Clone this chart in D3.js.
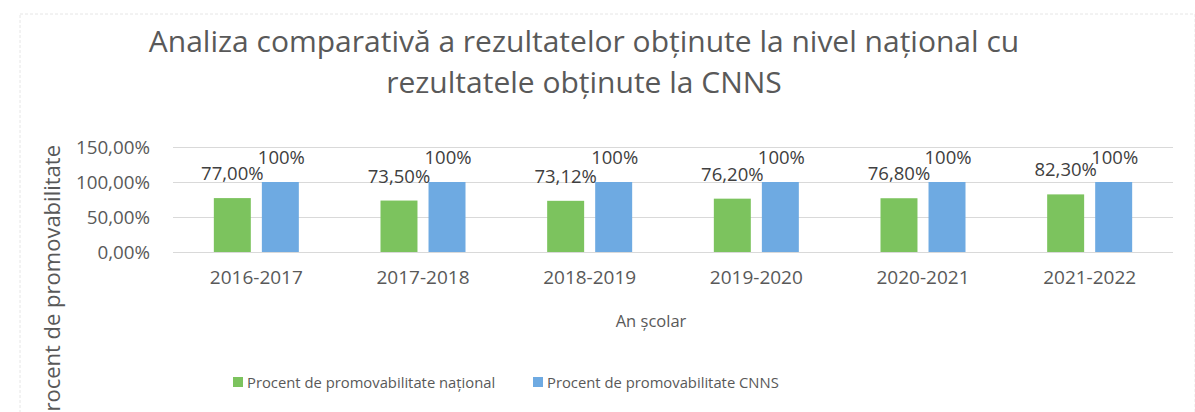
<!DOCTYPE html>
<html lang="ro">
<head>
<meta charset="UTF-8">
<title>Analiza comparativă</title>
<script src="https://d3js.org/d3.v7.min.js"></script>
<style>
  html, body { margin: 0; padding: 0; background: #fff; }
  svg { display: block; font-family: "Open Sans", sans-serif; }
</style>
</head>
<body>
<svg id="chart"></svg>
<script>
// data
const years = ["2016-2017", "2017-2018", "2018-2019", "2019-2020", "2020-2021", "2021-2022"];
const national = [77.00, 73.50, 73.12, 76.20, 76.80, 82.30];
const cnns = [100, 100, 100, 100, 100, 100];
const nationalLabels = ["77,00%", "73,50%", "73,12%", "76,20%", "76,80%", "82,30%"];
const cnnsLabels = ["100%", "100%", "100%", "100%", "100%", "100%"];
const yTicks = [0, 50, 100, 150];
const yTickLabels = ["0,00%", "50,00%", "100,00%", "150,00%"];
const seriesNames = ["Procent de promovabilitate naţional", "Procent de promovabilitate CNNS"];

const width = 1195, height = 412;
const margin = { top: 147, right: 22, bottom: 160, left: 173 };
const colors = ["#7cc35e", "#6eaae2"];
const textColor = "#595959";

const svg = d3.select("#chart").attr("width", width).attr("height", height);

// faint frame of the chart area
svg.append("rect")
  .attr("x", 20).attr("y", 14).attr("width", width - 20).attr("height", height)
  .attr("fill", "none").attr("stroke", "#e6e6e6").attr("stroke-dasharray", "3,2");

const g = svg.append("g").attr("transform", `translate(${margin.left},${margin.top})`);
const w = width - margin.left - margin.right;
const h = 252 - margin.top;

const x0 = d3.scaleBand().domain(years).range([0, w]).paddingInner(0.49).paddingOuter(0.245);
const x1 = d3.scaleBand().domain([0, 1]).range([0, x0.bandwidth()]).paddingInner(0.23);
const y = d3.scaleLinear().domain([0, 150]).range([h, 0]);

// gridlines
g.append("g")
  .call(d3.axisLeft(y).tickValues(yTicks).tickSize(-w).tickFormat(""))
  .call(s => s.select(".domain").remove())
  .call(s => s.selectAll("line").attr("stroke", "#d9d9d9"));

// y tick labels
g.append("g")
  .call(d3.axisLeft(y).tickValues(yTicks).tickSize(0).tickPadding(23)
    .tickFormat((d, i) => yTickLabels[i]))
  .call(s => s.select(".domain").remove())
  .call(s => s.selectAll("text").attr("fill", textColor)
    .attr("font-size", "18.8px").attr("font-family", "Open Sans"));

// x axis labels
g.append("g")
  .attr("transform", `translate(0,${h})`)
  .call(d3.axisBottom(x0).tickSize(0).tickPadding(19))
  .call(s => s.select(".domain").remove())
  .call(s => s.selectAll("text").attr("fill", textColor)
    .attr("font-size", "19px").attr("font-family", "Open Sans"));

const series = [national, cnns];
const seriesLabels = [nationalLabels, cnnsLabels];

series.forEach((vals, si) => {
  g.selectAll(".bar" + si)
    .data(vals)
    .join("rect")
    .attr("x", (d, i) => x0(years[i]) + x1(si))
    .attr("y", d => y(d))
    .attr("width", x1.bandwidth())
    .attr("height", d => h - y(d))
    .attr("fill", colors[si]);

  g.selectAll(".lab" + si)
    .data(vals)
    .join("text")
    .attr("x", (d, i) => x0(years[i]) + x1(si) + x1.bandwidth() / 2 + (si === 0 ? 0 : 1))
    .attr("y", d => y(d) - 18)
    .attr("text-anchor", "middle")
    .attr("fill", "#404040")
    .attr("font-size", "18.5px")
    .text((d, i) => seriesLabels[si][i]);
});

// title
const title = svg.append("text")
  .attr("x", 584).attr("text-anchor", "middle")
  .attr("fill", textColor).attr("font-size", "30px");
title.append("tspan").attr("x", 584).attr("y", 52)
  .text("Analiza comparativă a rezultatelor obţinute la nivel naţional cu");
title.append("tspan").attr("x", 584).attr("y", 93)
  .text("rezultatele obţinute la CNNS");

// axis titles
svg.append("text")
  .attr("x", 651).attr("y", 327).attr("text-anchor", "middle")
  .attr("fill", textColor).attr("font-size", "16.5px")
  .text("An şcolar");

svg.append("text")
  .attr("transform", "translate(60,145) rotate(-90)")
  .attr("text-anchor", "end")
  .attr("fill", textColor).attr("font-size", "22px")
  .text("Procent de promovabilitate");

// legend
const legendX = [233, 533];
seriesNames.forEach((name, si) => {
  const lg = svg.append("g").attr("transform", `translate(${legendX[si]},377)`);
  lg.append("rect").attr("width", 10).attr("height", 10).attr("fill", colors[si]);
  lg.append("text").attr("x", 14).attr("y", 11)
    .attr("fill", textColor).attr("font-size", "14.8px")
    .text(name);
});
</script>
</body>
</html>
